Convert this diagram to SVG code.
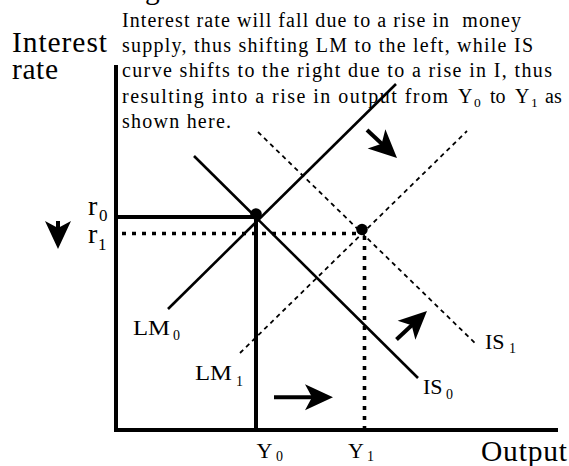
<svg xmlns="http://www.w3.org/2000/svg" width="569" height="466" viewBox="0 0 569 466">
<style>
text{font-family:"Liberation Serif","Times New Roman",serif;fill:#000}
.para{font-size:20px}
.psub{font-size:13.5px}
.title{font-size:29.5px}
.rl{font-size:28px}
.lbl{font-size:22px}
.sub{font-size:14px}
.rsub{font-size:17px}
.thick{stroke:#000;stroke-width:4;fill:none}
.solid{stroke:#000;stroke-width:2.6;fill:none}
.dots{stroke:#000;stroke-width:3.6;stroke-dasharray:4 6;fill:none}
.dash{stroke:#000;stroke-width:1.8;stroke-dasharray:4.5 4;fill:none}
.arr{stroke:#000;stroke-width:4;fill:none;marker-end:url(#ah)}
</style>
<defs>
<marker id="ah" markerUnits="userSpaceOnUse" markerWidth="30" markerHeight="28" viewBox="0 0 30 28" refX="11" refY="14" orient="auto"><path d="M30 14 L2 1 L9 14 L2 27 Z" fill="#000"/></marker>
</defs>
<rect width="569" height="466" fill="#fff"/>
<text class="title" x="145" y="-1">g</text>
<g id="axes">
<line class="thick" x1="116" y1="65" x2="116" y2="432"/>
<line class="thick" x1="114" y1="430" x2="558" y2="430"/>
</g>
<g id="title-interest-rate">
<text class="title" x="12" y="51.5" textLength="95" lengthAdjust="spacing">Interest</text>
<text class="title" x="12" y="78.5" textLength="46" lengthAdjust="spacing">rate</text>
</g>
<g id="title-output">
<text class="title" x="481" y="461" textLength="86" lengthAdjust="spacing">Output</text>
</g>
<g id="explanation">
<text class="para" x="122" y="26.7" textLength="399" lengthAdjust="spacing" xml:space="preserve">Interest rate will fall due to a rise in  money</text>
<text class="para" x="122" y="52" textLength="411" lengthAdjust="spacing">supply, thus shifting LM to the left, while IS</text>
<text class="para" x="122" y="77.3" textLength="430" lengthAdjust="spacing">curve shifts to the right due to a rise in I, thus</text>
<text class="para" y="102.6"><tspan x="122" textLength="326" lengthAdjust="spacing">resulting into a rise in output from</tspan><tspan x="458">Y</tspan><tspan x="474" y="106.6" class="psub">0</tspan><tspan x="490" y="102.6">to</tspan><tspan x="515">Y</tspan><tspan x="531" y="106.6" class="psub">1</tspan><tspan x="545" y="102.6">as</tspan></text>
<text class="para" x="122" y="128" textLength="109" lengthAdjust="spacing">shown here.</text>
</g>
<g id="connectors">
<line class="thick" x1="118" y1="217" x2="256" y2="217"/>
<line class="thick" x1="256" y1="217" x2="256" y2="430"/>
<line class="dots" x1="122" y1="233.5" x2="362" y2="233.5"/>
<line class="dots" x1="364.5" y1="236" x2="364.5" y2="428"/>
</g>
<g id="LM0">
<line class="solid" x1="168" y1="309" x2="396" y2="84"/>
<text class="lbl" x="133" y="334.5" textLength="37" lengthAdjust="spacingAndGlyphs">LM</text><text class="sub" x="173" y="340">0</text>
</g>
<g id="IS0">
<line class="solid" x1="194" y1="156" x2="418" y2="378"/>
<text class="lbl" x="423" y="393.5">IS</text><text class="sub" x="446" y="399">0</text>
</g>
<g id="LM1">
<line class="dash" x1="240" y1="353" x2="467" y2="131"/>
<text class="lbl" x="195" y="380" textLength="37" lengthAdjust="spacingAndGlyphs">LM</text><text class="sub" x="236" y="386">1</text>
</g>
<g id="IS1">
<line class="dash" x1="258" y1="132" x2="477" y2="345"/>
<text class="lbl" x="485" y="348.5">IS</text><text class="sub" x="509" y="353">1</text>
</g>
<g id="equilibria">
<circle cx="256" cy="214" r="5.8" fill="#000"/>
<circle cx="362" cy="229.5" r="5.7" fill="#000"/>
</g>
<g id="r-labels">
<text class="rl" x="88" y="215">r</text><text class="rsub" x="99" y="221">0</text>
<text class="rl" x="88" y="243">r</text><text class="rsub" x="98" y="250">1</text>
</g>
<g id="y-labels">
<text class="lbl" x="256.5" y="458">Y</text><text class="sub" x="276" y="461">0</text>
<text class="lbl" x="348" y="458">Y</text><text class="sub" x="367" y="461">1</text>
</g>
<g id="shift-arrows">
<line class="arr" x1="58" y1="221" x2="58" y2="230"/>
<line class="arr" x1="274" y1="397.3" x2="314" y2="397.3"/>
<line class="arr" x1="396.5" y1="339.5" x2="413.1" y2="324"/>
<line class="arr" x1="367" y1="130" x2="383.1" y2="145"/>
</g>
</svg>
